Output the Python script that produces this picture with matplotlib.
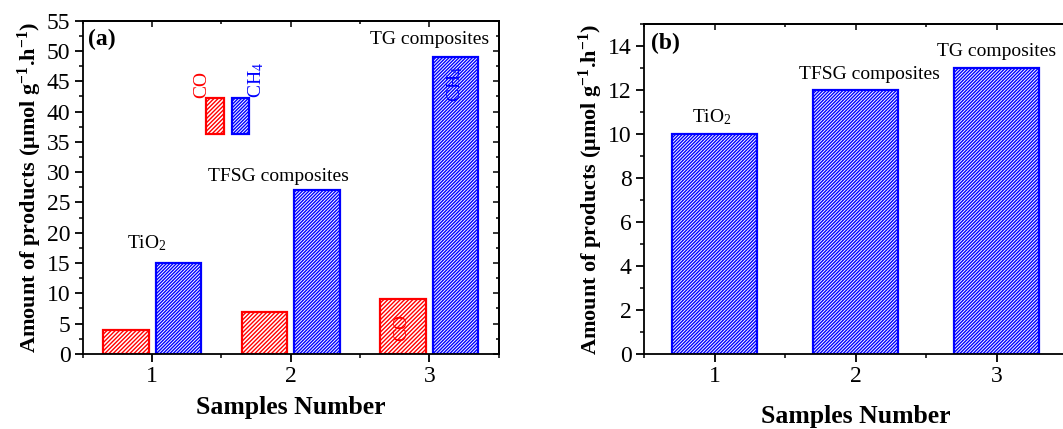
import matplotlib
matplotlib.use("Agg")
import matplotlib.pyplot as plt
from matplotlib.patches import Rectangle
from matplotlib.ticker import MultipleLocator
import numpy as np

# data
samples = [1, 2, 3]
co_rate = [4, 7, 9]
ch4_rate = [15, 27, 49]
ch4_rate_b = [10, 12, 13]
sample_names = ["TiO$_2$", "TFSG composites", "TG composites"]

plt.rcParams["font.family"] = "Liberation Serif"
plt.rcParams["mathtext.fontset"] = "custom"
plt.rcParams["mathtext.rm"] = "Liberation Serif"
plt.rcParams["mathtext.it"] = "Liberation Serif:italic"
plt.rcParams["mathtext.bf"] = "Liberation Serif:bold"
plt.rcParams["hatch.linewidth"] = 1.0

RED = "#ff0000"
BLUE = "#0000ff"
RED_HATCH = "////////"
BLUE_HATCH = "//////////"
YLABEL = r"Amount of products (μmol g$^{\mathbf{-1}}$.h$^{\mathbf{-1}}$)"


def style_axes(ax, ymax, ymajor, yminor, right_ticks=True):
    ax.set_xlim(0.5, 3.5)
    ax.set_ylim(0, ymax)
    ax.set_xticks(samples)
    ax.xaxis.set_minor_locator(MultipleLocator(0.5))
    ax.yaxis.set_major_locator(MultipleLocator(ymajor))
    ax.yaxis.set_minor_locator(MultipleLocator(yminor))
    for s in ax.spines.values():
        s.set_linewidth(1.3)
    ax.tick_params(which="major", direction="out", length=6, width=1.3,
                   labelsize=17, pad=3)
    ax.tick_params(which="minor", direction="out", length=3, width=1.1)
    ax.tick_params(top=False, right=False)
    # inward ticks on top / right
    top = ax.secondary_xaxis("top")
    top.set_xticks(samples)
    top.xaxis.set_minor_locator(MultipleLocator(0.5))
    top.tick_params(which="both", direction="in", labeltop=False, width=1.1)
    top.tick_params(which="major", length=4)
    top.tick_params(which="minor", length=2.5)
    top.spines["top"].set_linewidth(1.3)
    if right_ticks:
        right = ax.secondary_yaxis("right")
        right.yaxis.set_major_locator(MultipleLocator(ymajor))
        right.yaxis.set_minor_locator(MultipleLocator(yminor))
        right.tick_params(which="both", direction="in", labelright=False,
                          width=1.1)
        right.tick_params(which="major", length=4)
        right.tick_params(which="minor", length=2.5)
        right.spines["right"].set_linewidth(1.3)


fig = plt.figure(figsize=(10.63, 4.29), dpi=100)

# ---- panel (a)
ax1 = fig.add_axes([0.078, 0.175, 0.391, 0.777])
x = np.array(samples, dtype=float)
off, w = 0.19, 0.33
ax1.bar(x - off, co_rate, w, facecolor="white", edgecolor=RED,
        hatch=RED_HATCH, linewidth=1.6)
ax1.bar(x + off, ch4_rate, w, facecolor="white", edgecolor=BLUE,
        hatch=BLUE_HATCH, linewidth=1.6)
style_axes(ax1, 55, 5, 2.5)
ax1.set_xlabel("Samples Number", fontsize=18.5, fontweight="bold", labelpad=6)
ax1.set_ylabel(YLABEL, fontsize=16, fontweight="bold", labelpad=2)
ax1.text(0.012, 0.975, "(a)", transform=ax1.transAxes, fontsize=17,
         fontweight="bold", ha="left", va="top")

# sample labels above the bars
lab_xa = [0.96, 1.91, 3.0]
lab_ya = [18.3, 29.3, 51.9]
for lx, ly, name in zip(lab_xa, lab_ya, sample_names):
    ax1.text(lx, ly, name, fontsize=14, ha="center", va="center")

# gas labels inside sample-3 bars
ax1.text(2.80, 4.3, "CO", color=RED, fontsize=14, rotation=90,
         ha="center", va="center")
ax1.text(3.19, 44.6, "CH$_4$", color=BLUE, fontsize=14, rotation=90,
         ha="center", va="center")

# legend swatches
ax1.add_patch(Rectangle((0.296, 0.659), 0.043, 0.110, transform=ax1.transAxes,
                        facecolor="white", edgecolor=RED, hatch=RED_HATCH,
                        linewidth=1.6))
ax1.add_patch(Rectangle((0.358, 0.659), 0.041, 0.110, transform=ax1.transAxes,
                        facecolor="white", edgecolor=BLUE, hatch=BLUE_HATCH,
                        linewidth=1.6))
ax1.text(0.287, 0.769, "CO", color=RED, fontsize=14, rotation=90,
         transform=ax1.transAxes, ha="center", va="bottom")
ax1.text(0.417, 0.769, "CH$_4$", color=BLUE, fontsize=14, rotation=90,
         transform=ax1.transAxes, ha="center", va="bottom")

# ---- panel (b), right edge runs off the figure like the original
ax2 = fig.add_axes([0.606, 0.175, 0.398, 0.768])
ax2.bar(x, ch4_rate_b, 0.6, facecolor="white", edgecolor=BLUE,
        hatch=BLUE_HATCH, linewidth=1.6)
style_axes(ax2, 15, 2, 1, right_ticks=False)
ax2.spines["right"].set_visible(False)
ax2.set_xlabel("Samples Number", fontsize=18.5, fontweight="bold", labelpad=13)
ax2.set_ylabel(YLABEL, fontsize=16, fontweight="bold", labelpad=2)
ax2.text(0.015, 0.974, "(b)", transform=ax2.transAxes, fontsize=17,
         fontweight="bold", ha="left", va="top")

lab_xb = [0.98, 2.1, 3.0]
lab_yb = [10.8, 12.7, 13.75]
for lx, ly, name in zip(lab_xb, lab_yb, sample_names):
    ax2.text(lx, ly, name, fontsize=14, ha="center", va="center")

fig.savefig("out.png", dpi=100)
